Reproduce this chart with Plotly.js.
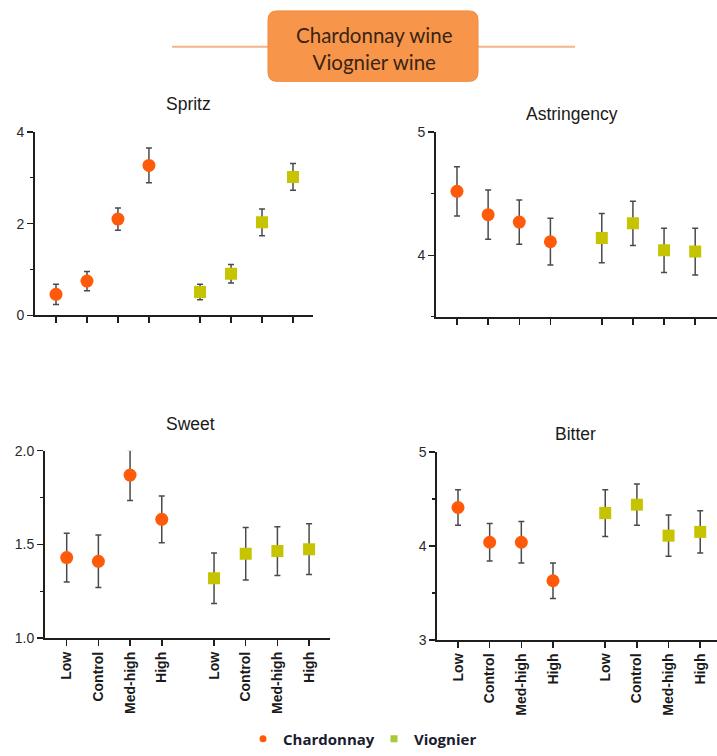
<!DOCTYPE html>
<html>
<head>
<meta charset="utf-8">
<script src="https://cdn.plot.ly/plotly-3.0.1.min.js"></script>
<style>
  html, body { margin: 0; padding: 0; background: #fff; }
  #chart { width: 717px; height: 756px; }
</style>
</head>
<body>
<div id="chart"></div>
<script>
// ---------- data ----------
const categories = ['Low', 'Control', 'Med-high', 'High'];
const seriesNames = ['Chardonnay', 'Viognier'];
const panelTitles = ['Spritz', 'Astringency', 'Sweet', 'Bitter'];

const spritzChard = [0.46, 0.75, 2.10, 3.27];
const spritzChardErr = [0.22, 0.21, 0.24, 0.38];
const spritzViog = [0.51, 0.91, 2.03, 3.02];
const spritzViogErr = [0.17, 0.20, 0.29, 0.29];

const astrChard = [4.52, 4.33, 4.27, 4.11];
const astrChardErr = [0.20, 0.20, 0.18, 0.19];
const astrViog = [4.14, 4.26, 4.04, 4.03];
const astrViogErr = [0.20, 0.18, 0.18, 0.19];

const sweetChard = [1.43, 1.41, 1.87, 1.634];
const sweetChardErr = [0.13, 0.14, 0.135, 0.125];
const sweetViog = [1.32, 1.45, 1.465, 1.475];
const sweetViogErr = [0.135, 0.14, 0.13, 0.135];

const bitterChard = [4.41, 4.04, 4.04, 3.63];
const bitterChardErr = [0.19, 0.20, 0.22, 0.19];
const bitterViog = [4.35, 4.44, 4.11, 4.15];
const bitterViogErr = [0.25, 0.22, 0.22, 0.225];

// ---------- layout helpers ----------
const W = 717, H = 756;
const GROUP_OFFSET = 4.65;
const chardPos = categories.map((c, i) => i);
const viogPos = categories.map((c, i) => i + GROUP_OFFSET);
const tickPos = chardPos.concat(viogPos);
const tickText = categories.concat(categories);

const CHARD_COLOR = '#FF5A0A';
const VIOG_COLOR = '#C6C400';
const AXIS_COLOR = '#1e1e1e';
const ERR_COLOR = '#4a4a4a';
const SANS = 'Liberation Sans, Arial, sans-serif';
const HUMAN = 'Lato, Open Sans, sans-serif';

const panels = [
  { chard: spritzChard, chardErr: spritzChardErr, viog: spritzViog, viogErr: spritzViogErr },
  { chard: astrChard, chardErr: astrChardErr, viog: astrViog, viogErr: astrViogErr },
  { chard: sweetChard, chardErr: sweetChardErr, viog: sweetViog, viogErr: sweetViogErr },
  { chard: bitterChard, chardErr: bitterChardErr, viog: bitterViog, viogErr: bitterViogErr }
];

const traces = [];
panels.forEach((p, k) => {
  const ax = k === 0 ? '' : String(k + 1);
  traces.push({
    type: 'scatter', mode: 'markers', name: seriesNames[0], showlegend: false,
    x: chardPos, y: p.chard, xaxis: 'x' + ax, yaxis: 'y' + ax,
    marker: { symbol: 'circle', size: 13, color: CHARD_COLOR },
    error_y: { type: 'data', array: p.chardErr, color: ERR_COLOR, thickness: 1.5, width: 3 }
  });
  traces.push({
    type: 'scatter', mode: 'markers', name: seriesNames[1], showlegend: false,
    x: viogPos, y: p.viog, xaxis: 'x' + ax, yaxis: 'y' + ax,
    marker: { symbol: 'square', size: 12, color: VIOG_COLOR },
    error_y: { type: 'data', array: p.viogErr, color: ERR_COLOR, thickness: 1.5, width: 3 }
  });
});
// legend-only entries (small legend markers like the reference)
traces.push({ type: 'scatter', mode: 'markers', name: seriesNames[0], x: [null], y: [null],
  marker: { symbol: 'circle', size: 7, color: CHARD_COLOR }, showlegend: true });
traces.push({ type: 'scatter', mode: 'markers', name: seriesNames[1], x: [null], y: [null],
  marker: { symbol: 'square', size: 7, color: '#A9C83A' }, showlegend: true });

function px2x(p) { return p / W; }
function px2y(p) { return 1 - p / H; }

function xAxis(domPx, range, showLabels, anchor) {
  return {
    domain: [px2x(domPx[0]), Math.min(1, px2x(domPx[1]))],
    range: range, anchor: anchor,
    showgrid: false, zeroline: false, showline: true, linecolor: AXIS_COLOR, linewidth: 2,
    ticks: 'outside', ticklen: 6, tickwidth: 1.5, tickcolor: AXIS_COLOR,
    tickmode: 'array', tickvals: tickPos, ticktext: tickText,
    showticklabels: showLabels, tickangle: -90,
    tickfont: { family: SANS, size: 14, color: '#1a1a1a', weight: 'bold' }
  };
}
function yAxis(domPx, range, dtick, tick0, minorDtick, fmt, anchor) {
  return {
    domain: [px2y(domPx[1]), px2y(domPx[0])],
    range: range, anchor: anchor,
    showgrid: false, zeroline: false, showline: true, linecolor: AXIS_COLOR, linewidth: 2,
    ticks: 'outside', ticklen: 6, tickwidth: 1.5, tickcolor: AXIS_COLOR,
    tick0: tick0, dtick: dtick, tickformat: fmt,
    minor: { dtick: minorDtick, tick0: range[0], ticks: 'outside', ticklen: 3, tickwidth: 1.2, tickcolor: AXIS_COLOR, showgrid: false },
    tickfont: { family: SANS, size: 14, color: '#2a2a2a' }
  };
}

const layout = {
  width: W, height: H,
  margin: { l: 0, r: 0, t: 0, b: 0 },
  paper_bgcolor: '#fff', plot_bgcolor: 'rgba(0,0,0,0)',
  showlegend: true,
  legend: {
    orientation: 'h', x: px2x(243), xanchor: 'left', y: px2y(745), yanchor: 'middle',
    font: { family: 'Open Sans, Lato, sans-serif', size: 15, color: '#1b1b30', weight: 'bold' },
    itemwidth: 30, entrywidth: 86, bgcolor: 'rgba(0,0,0,0)'
  },
  xaxis:  xAxis([35, 313], [-0.678, 8.296], false, 'y'),
  yaxis:  yAxis([133, 318], [0, 4], 2, 0, 1, '', 'x'),
  xaxis2: xAxis([436, 717], [-0.674, 8.35], false, 'y2'),
  yaxis2: yAxis([133.3, 319.3], [3.5, 5], 1, 4, 0.5, '', 'x2'),
  xaxis3: xAxis([45, 330], [-0.685, 8.31], true, 'y3'),
  yaxis3: yAxis([454.3, 643.3], [1.0, 2.0], 0.5, 1, 0.25, '.1f', 'x3'),
  xaxis4: xAxis([437.3, 717], [-0.654, 8.18], true, 'y4'),
  yaxis4: yAxis([455.7, 645], [3, 5], 1, 3, 0.5, '', 'x4'),
  annotations: [],
  shapes: []
};

// panel titles
const titlePos = [[188, 105], [572, 115], [191, 427], [575, 437]];
panelTitles.forEach((t, i) => {
  layout.annotations.push({
    text: t, xref: 'paper', yref: 'paper', x: px2x(titlePos[i][0]), y: px2y(titlePos[i][1]),
    xanchor: 'center', yanchor: 'middle', showarrow: false,
    font: { family: SANS, size: 17.5, color: '#1a1a1a' }
  });
});

// header box with lines
const bx0 = 268, bx1 = 478, by0 = 11, by1 = 82, r = 9;
const X = px2x, Y = px2y;
function fmtPath(arr) {
  let s = '';
  for (let i = 0; i < arr.length; i++) {
    const v = arr[i];
    if (typeof v === 'string') s += v;
    else { s += v.toFixed(5); if (typeof arr[i + 1] === 'number') s += ','; else s += ' '; }
  }
  return s;
}
const pathArr = [
  'M', X(bx0 + r), Y(by0),
  'L', X(bx1 - r), Y(by0),
  'Q', X(bx1), Y(by0), X(bx1), Y(by0 + r),
  'L', X(bx1), Y(by1 - r),
  'Q', X(bx1), Y(by1), X(bx1 - r), Y(by1),
  'L', X(bx0 + r), Y(by1),
  'Q', X(bx0), Y(by1), X(bx0), Y(by1 - r),
  'L', X(bx0), Y(by0 + r),
  'Q', X(bx0), Y(by0), X(bx0 + r), Y(by0), 'Z'
];
layout.shapes.push({ type: 'line', xref: 'paper', yref: 'paper', x0: X(172), x1: X(bx0), y0: Y(47), y1: Y(47),
  line: { color: '#F3B488', width: 2 }, layer: 'below' });
layout.shapes.push({ type: 'line', xref: 'paper', yref: 'paper', x0: X(bx1), x1: X(575), y0: Y(47), y1: Y(47),
  line: { color: '#F3B488', width: 2 }, layer: 'below' });
layout.shapes.push({ type: 'path', xref: 'paper', yref: 'paper', path: fmtPath(pathArr),
  fillcolor: '#F7964A', line: { color: '#F28A3A', width: 1 }, layer: 'above' });
layout.annotations.push({
  text: 'Chardonnay wine<br>Viognier wine', xref: 'paper', yref: 'paper',
  x: X(374), y: Y(48.5), xanchor: 'center', yanchor: 'middle', showarrow: false,
  font: { family: HUMAN, size: 20.5, color: '#3a2414' }
});

Plotly.newPlot('chart', traces, layout, { displayModeBar: false, staticPlot: true });
</script>
</body>
</html>
